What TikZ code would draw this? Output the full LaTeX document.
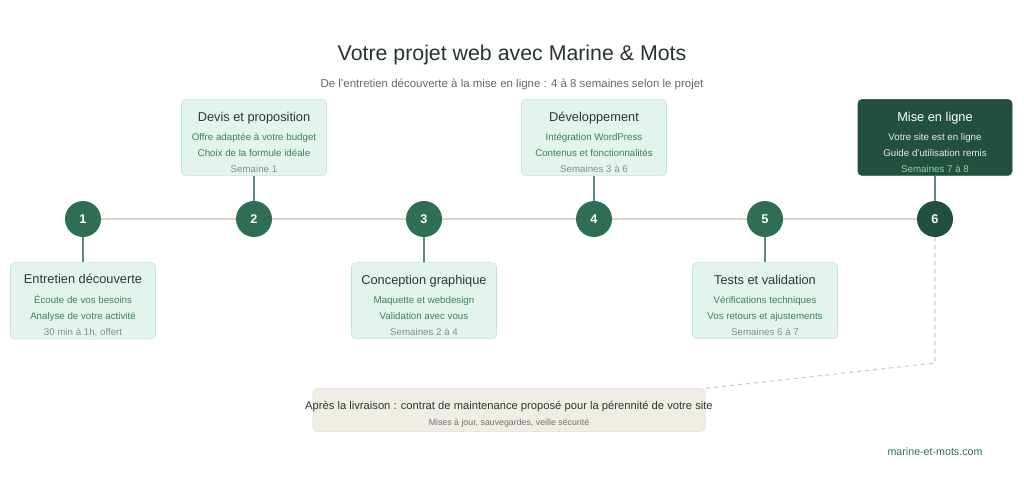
\documentclass[tikz,border=0pt]{standalone}
\usepackage{fontspec}
\setmainfont{Liberation Sans}
\usetikzlibrary{positioning}
\definecolor{boxfill}{HTML}{E3F4EC}
\definecolor{boxline}{HTML}{C2E4D3}
\definecolor{titletext}{HTML}{2B3A33}
\definecolor{itemtext}{HTML}{3F7F62}
\definecolor{weektext}{HTML}{8C8C8C}
\definecolor{dotfill}{HTML}{2F6E55}
\definecolor{darkfill}{HTML}{22503F}
\definecolor{darkweek}{HTML}{8FD3B0}
\definecolor{railline}{HTML}{D9D2C3}
\definecolor{notefill}{HTML}{F0EDE6}
\definecolor{noteline}{HTML}{E2DDD3}
\newcommand{\stepbody}[5][]{{\fontsize{9.6}{13}\selectfont\color{titletext}\rule{0pt}{14pt}#1#2}\\[2.5pt]
  {\fontsize{7.3}{13}\selectfont #3}\\{\fontsize{7.3}{13}\selectfont #4}\\
  {\fontsize{7.3}{13}\selectfont\color{weektext}#5}}
\begin{document}
\begin{tikzpicture}[x=0.75pt,y=0.75pt,yscale=-1,
    dot/.style={circle,fill=dotfill,minimum size=27pt,inner sep=0pt,text=white,font=\fontsize{9.5}{10}\selectfont\bfseries},
    stepbox/.style={draw=boxline,fill=boxfill,rounded corners=3pt,minimum width=108.75pt,minimum height=57pt,
      align=center,text=itemtext,inner sep=2pt,node distance=18.75pt},
    darkbox/.style={stepbox,draw=darkfill,fill=darkfill,text=white!88!darkfill,minimum width=115.5pt},
    stem/.style={draw=dotfill!80,line width=1.2pt}]
  \useasboundingbox (0,0) rectangle (1024,496);

  % title
  \node (title) at (512,55) {\fontsize{16}{18}\selectfont\color{titletext!90!black}Votre projet web avec Marine \& Mots};
  \node (subtitle) at (512,84) {\fontsize{8.6}{9}\selectfont\color{titletext!75}De l'entretien découverte à la mise en ligne : 4 à 8 semaines selon le projet};

  % rail
  \draw[railline,line width=1.5pt] (83,219) -- (935,219);
  \foreach \i/\x in {1/83,2/254,3/424,4/594,5/765} {
    \node[dot] (d\i) at (\x,219) {\i};
  }
  \node[dot,fill=darkfill] (d6) at (935,219) {6};

  % steps
  \node[stepbox,below=of d1] (s1) {\stepbody{Entretien découverte}{Écoute de vos besoins}{Analyse de votre activité}{30 min à 1h, offert}};
  \node[stepbox,above=of d2] (s2) {\stepbody{Devis et proposition}{Offre adaptée à votre budget}{Choix de la formule idéale}{Semaine 1}};
  \node[stepbox,below=of d3] (s3) {\stepbody{Conception graphique}{Maquette et webdesign}{Validation avec vous}{Semaines 2 à 4}};
  \node[stepbox,above=of d4] (s4) {\stepbody{Développement}{Intégration WordPress}{Contenus et fonctionnalités}{Semaines 3 à 6}};
  \node[stepbox,below=of d5] (s5) {\stepbody{Tests et validation}{Vérifications techniques}{Vos retours et ajustements}{Semaines 6 à 7}};
  \node[darkbox,above=of d6] (s6) {\stepbody[\color{white}]{Mise en ligne}{Votre site est en ligne}{Guide d'utilisation remis}{\color{darkweek}Semaines 7 à 8}};

  \foreach \i in {1,...,6} {
    \draw[stem] (d\i) -- (s\i);
  }

  % after delivery
  \node[draw=noteline,fill=notefill,rounded corners=3pt,minimum width=294pt,minimum height=32pt] (note) at (509,410) {};
  \node[align=center,text=titletext] (notetext) at (509,414) {{\fontsize{8.4}{12}\selectfont Après la livraison : contrat de maintenance proposé pour la pérennité de votre site}\\
    {\fontsize{6.6}{8}\selectfont\color{weektext!80!black}Mises à jour, sauvegardes, veille sécurité}};
  \coordinate (bend) at (935,363);
  \draw[noteline!80!gray,dashed,line width=0.8pt] (d6) -- (bend) -- (note.north east);

  \node[text=dotfill] (site) at (935,452) {\fontsize{8}{9}\selectfont marine-et-mots.com};
\end{tikzpicture}
\end{document}
